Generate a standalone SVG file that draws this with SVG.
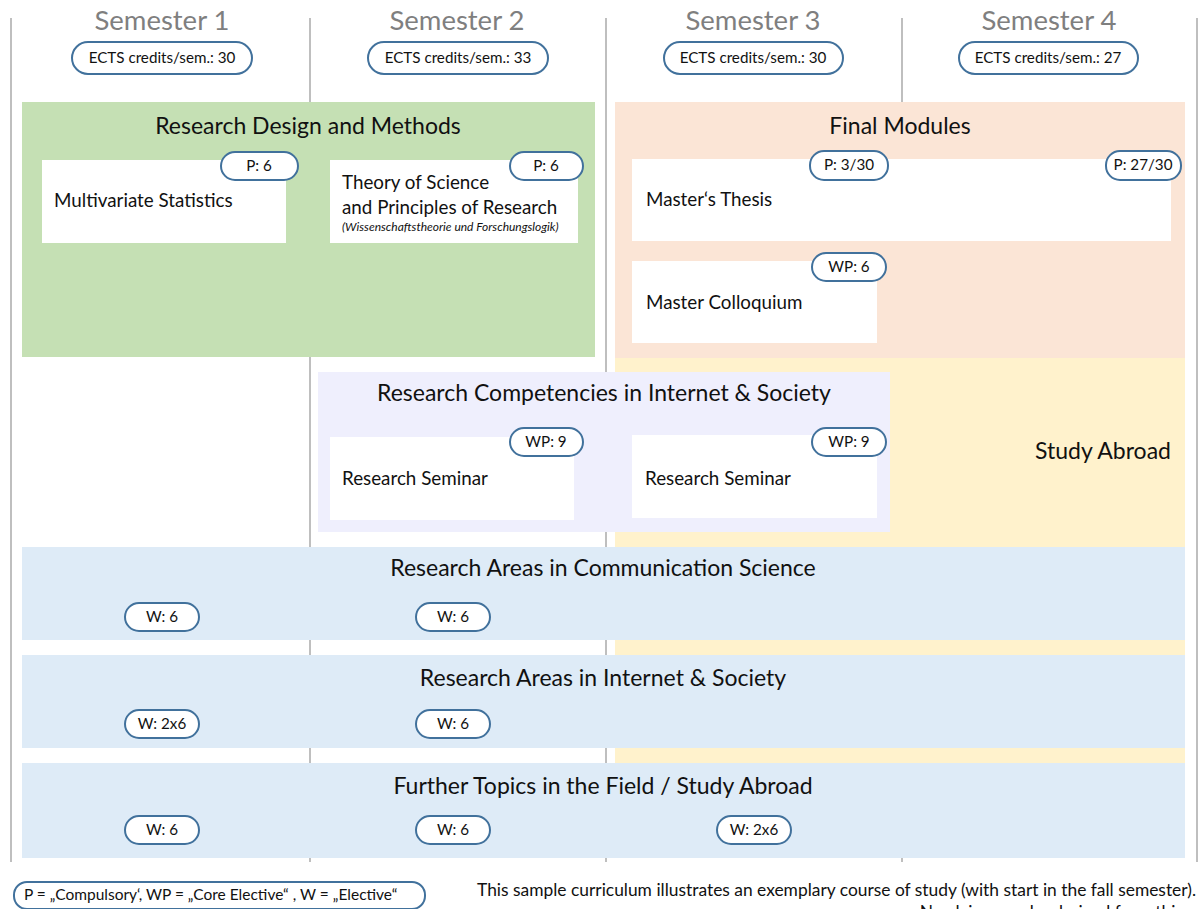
<svg xmlns="http://www.w3.org/2000/svg" width="1199" height="909" viewBox="0 0 1199 909">
<style>
text{font-family:Lato,"Open Sans","Liberation Sans",sans-serif;fill:#111}
.sem{font-size:27.5px;fill:#7f7f7f;text-anchor:middle}
.grid{stroke:#bfbfbf;stroke-width:2}
.pill{fill:#fff;stroke:#41719c;stroke-width:2}
.pt{font-size:15.2px;text-anchor:middle}
.box{fill:#fff}
.title{font-size:23px;text-anchor:middle}
.lbl{font-size:18.8px}
</style>
<g id="grid" class="grid">
<line x1="11" y1="18" x2="11" y2="862"/>
<line x1="310" y1="18" x2="310" y2="862"/>
<line x1="606" y1="18" x2="606" y2="862"/>
<line x1="902" y1="18" x2="902" y2="862"/>
<line x1="1197" y1="18" x2="1197" y2="862"/>
</g>
<g id="headers">
<text class="sem" x="162" y="30">Semester 1</text>
<text class="sem" x="457" y="30">Semester 2</text>
<text class="sem" x="753" y="30">Semester 3</text>
<text class="sem" x="1049" y="30">Semester 4</text>
<rect class="pill" x="72" y="42" width="180" height="32" rx="16"/>
<text class="pt" x="162" y="63">ECTS credits/sem.: 30</text>
<rect class="pill" x="368" y="42" width="180" height="32" rx="16"/>
<text class="pt" x="458" y="63">ECTS credits/sem.: 33</text>
<rect class="pill" x="664" y="42" width="179" height="32" rx="16"/>
<text class="pt" x="753" y="63">ECTS credits/sem.: 30</text>
<rect class="pill" x="959" y="42" width="179" height="32" rx="16"/>
<text class="pt" x="1048" y="63">ECTS credits/sem.: 27</text>
</g>
<g id="study-abroad">
<rect x="615" y="358" width="570" height="500" fill="#fff2cc"/>
<text x="1035" y="459" font-size="23">Study Abroad</text>
</g>
<g id="research-design">
<rect x="22" y="102" width="573" height="255" fill="#c5e0b4"/>
<text class="title" x="308" y="134">Research Design and Methods</text>
</g>
<g id="multivariate">
<rect class="box" x="42" y="160" width="244" height="83"/>
<text class="lbl" x="54" y="207">Multivariate  Statistics</text>
<rect class="pill" x="221" y="152" width="77" height="28" rx="14"/>
<text class="pt" x="259" y="171">P: 6</text>
</g>
<g id="theory">
<rect class="box" x="330" y="160" width="248" height="83"/>
<text class="lbl" x="342" y="189">Theory of Science</text>
<text class="lbl" x="342" y="214">and Principles of Research</text>
<text x="342" y="231" font-size="12" font-style="italic">(Wissenschaftstheorie und Forschungslogik)</text>
<rect class="pill" x="510" y="152" width="73" height="28" rx="14"/>
<text class="pt" x="546" y="171">P: 6</text>
</g>
<g id="final-modules">
<rect x="615" y="102" width="570" height="256" fill="#fbe5d6"/>
<text class="title" x="900" y="134">Final Modules</text>
</g>
<g id="thesis">
<rect class="box" x="632" y="159" width="539" height="82"/>
<text class="lbl" x="646" y="206">Master‘s Thesis</text>
<rect class="pill" x="810" y="151" width="78" height="29" rx="14"/>
<text class="pt" x="849" y="170">P: 3/30</text>
<rect class="pill" x="1106" y="151" width="75" height="29" rx="14"/>
<text class="pt" x="1143" y="170">P: 27/30</text>
</g>
<g id="colloquium">
<rect class="box" x="632" y="261" width="245" height="82"/>
<text class="lbl" x="646" y="309">Master Colloquium</text>
<rect class="pill" x="812" y="253" width="74" height="28" rx="14"/>
<text class="pt" x="849" y="272">WP: 6</text>
</g>
<g id="competencies">
<rect x="318" y="372" width="572" height="160" fill="#efeffd"/>
<text class="title" x="604" y="401">Research Competencies in Internet &amp; Society</text>
</g>
<g id="seminar1">
<rect class="box" x="330" y="437" width="244" height="83"/>
<text class="lbl" x="342" y="485">Research Seminar</text>
<rect class="pill" x="510" y="428" width="73" height="28" rx="14"/>
<text class="pt" x="546" y="447">WP: 9</text>
</g>
<g id="seminar2">
<rect class="box" x="632" y="435" width="245" height="83"/>
<text class="lbl" x="645" y="485">Research Seminar</text>
<rect class="pill" x="812" y="428" width="74" height="28" rx="14"/>
<text class="pt" x="849" y="447">WP: 9</text>
</g>
<g id="areas-comm">
<rect x="22" y="547" width="1163" height="93" fill="#deebf7"/>
<text class="title" x="603" y="576">Research Areas in Communication Science</text>
<rect class="pill" x="125" y="603" width="74" height="28" rx="14"/>
<text class="pt" x="162" y="622">W: 6</text>
<rect class="pill" x="416" y="603" width="74" height="28" rx="14"/>
<text class="pt" x="453" y="622">W: 6</text>
</g>
<g id="areas-internet">
<rect x="22" y="655" width="1163" height="93" fill="#deebf7"/>
<text class="title" x="603" y="686">Research Areas in Internet &amp; Society</text>
<rect class="pill" x="125" y="710" width="74" height="28" rx="14"/>
<text class="pt" x="162" y="729">W: 2x6</text>
<rect class="pill" x="416" y="710" width="74" height="28" rx="14"/>
<text class="pt" x="453" y="729">W: 6</text>
</g>
<g id="further-topics">
<rect x="22" y="763" width="1163" height="95" fill="#deebf7"/>
<text class="title" x="603" y="794">Further Topics in the Field / Study Abroad</text>
<rect class="pill" x="125" y="816" width="74" height="28" rx="14"/>
<text class="pt" x="162" y="835">W: 6</text>
<rect class="pill" x="416" y="816" width="74" height="28" rx="14"/>
<text class="pt" x="453" y="835">W: 6</text>
<rect class="pill" x="717" y="816" width="74" height="28" rx="14"/>
<text class="pt" x="754" y="835">W: 2x6</text>
</g>
<g id="legend">
<rect class="pill" x="14" y="882" width="411" height="27" rx="13"/>
<text x="24" y="900" font-size="15.5">P = „Compulsory‘, WP = „Core Elective“ , W = „Elective“</text>
<text x="1196" y="896" font-size="17.4" text-anchor="end">This sample curriculum illustrates an exemplary course of study (with start in the fall semester).</text>
<text x="1183" y="918" font-size="17.4" text-anchor="end">No claims can be derived from this</text>
</g>
</svg>
